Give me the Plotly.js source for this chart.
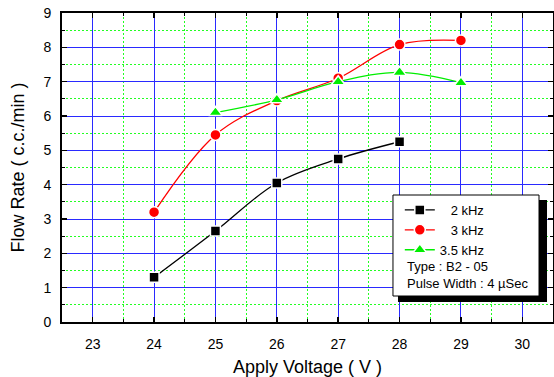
<!DOCTYPE html>
<html><head><meta charset="utf-8">
<script src="https://cdn.plot.ly/plotly-3.0.1.min.js"></script>
<style>html,body{margin:0;padding:0;background:#fff}#c{width:554px;height:377px}</style>
</head><body><div id="c"></div>
<script>
const voltage2k = [24, 25, 26, 27, 28];
const flow2k = [1.3, 2.65, 4.05, 4.75, 5.25];
const voltage3k = [24, 25, 26, 27, 28, 29];
const flow3k = [3.2, 5.45, 6.45, 7.1, 8.08, 8.2];
const voltage35k = [25, 26, 27, 28, 29];
const flow35k = [6.1, 6.47, 7.0, 7.27, 6.97];
const seriesNames = ['\u00a0\u00a0\u00a02 kHz', '\u00a0\u00a0\u00a03 kHz', '3.5 kHz'];
const noteLines = ['Type : B2 - 05', 'Pulse Width : 4 \u00b5Sec'];

const font = 'Liberation Sans, Arial, sans-serif';
function tr(x, y, name, color, symbol, size) {
  return {x: x, y: y, name: name, type: 'scatter', mode: 'lines+markers',
    line: {color: color, width: 1.3, shape: 'spline', smoothing: 1},
    marker: {color: color, symbol: symbol, size: size, line: {color: '#fff', width: 1.5}}};
}
const data = [
  tr(voltage2k, flow2k, seriesNames[0], '#000000', 'square', 10),
  tr(voltage3k, flow3k, seriesNames[1], '#ff0000', 'circle', 11),
  tr(voltage35k, flow35k, seriesNames[2], '#00ee00', 'triangle-up', 12)
];
function ax(range, title, standoff) {
  return {range: range, dtick: 1, showgrid: true, gridcolor: '#2a2aff', gridwidth: 1,
    showline: true, linecolor: '#000', linewidth: 2, mirror: 'ticks', zeroline: false,
    ticks: 'inside', ticklen: 5, tickwidth: 1.5, tickcolor: '#000',
    tickfont: {family: font, size: 14, color: '#000'}, ticklabelstandoff: standoff,
    minor: {dtick: 0.5, ticks: 'inside', ticklen: 3, tickwidth: 1, tickcolor: '#000',
      showgrid: true, gridcolor: '#22ff22', griddash: '2px,2px', gridwidth: 1},
    title: {text: title, font: {family: font, size: 18, color: '#000'}}};
}
const xa = ax([22.5, 30.5], 'Apply Voltage ( V )', 8); xa.tick0 = 23; xa.title.standoff = 12;
const ya = ax([0, 9], 'Flow Rate ( c.c./min )', 6); ya.title.standoff = 14;
const layout = {
  width: 554, height: 377, margin: {l: 62, r: 1, t: 13, b: 55},
  paper_bgcolor: '#fff', plot_bgcolor: '#fff',
  xaxis: xa, yaxis: ya,
  showlegend: true,
  legend: {x: 0.688, y: 0.411, xanchor: 'left', yanchor: 'top', bgcolor: 'rgba(0,0,0,0)',
    borderwidth: 0, font: {family: font, size: 13, color: '#000'}, itemwidth: 30, tracegroupgap: 0},
  shapes: [
    {type: 'rect', xref: 'paper', yref: 'paper', x0: 0.6843, x1: 0.9878, y0: 0.0647, y1: 0.3948,
      fillcolor: '#000', line: {width: 0}, layer: 'above'},
    {type: 'rect', xref: 'paper', yref: 'paper', x0: 0.6741, x1: 0.9715, y0: 0.0841, y1: 0.411,
      fillcolor: '#fff', line: {color: '#000', width: 1}, layer: 'above'}
  ],
  annotations: [
    {xref: 'paper', yref: 'paper', x: 0.6986, y: 0.1812, xanchor: 'left', yanchor: 'middle', showarrow: false,
      text: noteLines[0], font: {family: font, size: 13, color: '#000'}},
    {xref: 'paper', yref: 'paper', x: 0.6986, y: 0.123, xanchor: 'left', yanchor: 'middle', showarrow: false,
      text: noteLines[1], font: {family: font, size: 13, color: '#000'}}
  ]
};
Plotly.newPlot('c', data, layout, {displayModeBar: false, staticPlot: true});
</script></body></html>
